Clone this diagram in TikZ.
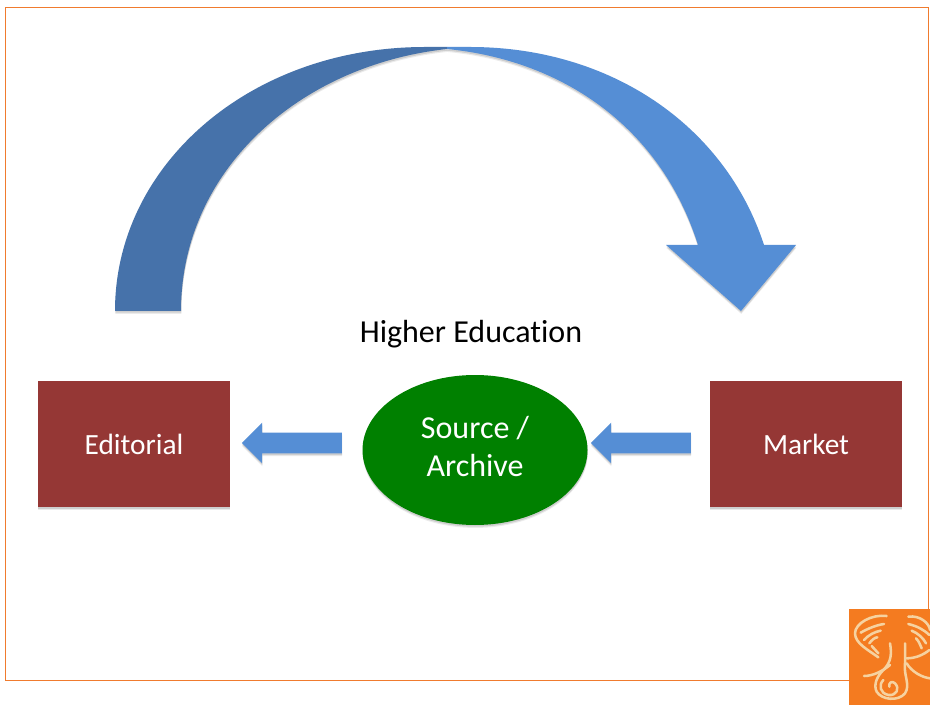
\documentclass[tikz,border=0pt]{standalone}
\usepackage{fontspec}
\setmainfont[Ligatures=NoCommon]{Carlito}
\usetikzlibrary{shapes.geometric,shapes.arrows,shadows}
\definecolor{frameor}{HTML}{F07B2E}
\definecolor{arcdark}{HTML}{4672AA}
\definecolor{arcblue}{HTML}{558ED5}
\definecolor{boxred}{HTML}{953735}
\definecolor{srcgreen}{HTML}{008000}
\definecolor{logoor}{HTML}{F47B20}
\definecolor{logoln}{HTML}{F6D2A0}
\tikzset{
  softshadow/.style={
    drop shadow={shadow xshift=0.2pt,shadow yshift=-2.2pt,fill=black,opacity=0.08},
    drop shadow={shadow xshift=0.2pt,shadow yshift=-1.3pt,fill=black,opacity=0.12}},
  redbox/.style={rectangle,fill=boxred,text=white,minimum width=144pt,minimum height=94.5pt,inner sep=0pt,font=\fontsize{22}{26}\selectfont,softshadow},
  srcnode/.style={ellipse,fill=srcgreen,minimum width=168.75pt,minimum height=112.5pt,inner sep=0pt,softshadow},
  srctext/.style={text=white,align=center,inner sep=0pt,font=\fontsize{24}{28.5}\selectfont},
  blockarrow/.style={single arrow,fill=arcblue,inner sep=0pt,minimum height=75pt,single arrow head extend=7.5pt,single arrow tip angle=90,shape border rotate=180,softshadow},
  logostroke/.style={draw=logoln,line width=1.9pt,line cap=round,line join=round},
}
\begin{document}
\begin{tikzpicture}[x=0.75pt,y=-0.75pt]
\useasboundingbox (0,0) rectangle (930,705);
\fill[white] (0,0) rectangle (930,705);
% frame
\draw[frameor,line width=0.8pt] (5.5,7.5) rectangle (928.5,680.5);
% big curved arrow
\fill[arcdark,softshadow] (115,311) .. controls (115,165) and (250,47) .. (425,47) -- (447,47) -- (447,49)
  .. controls (300,65) and (181,170) .. (181,311) -- cycle;
\fill[arcblue,softshadow] (447,49) -- (447,47) -- (470,47) .. controls (610,47) and (725,125) .. (764,245)
  -- (796,245) -- (741,311) -- (666,245) -- (698,245) .. controls (660,125) and (560,60) .. (447,49) -- cycle;
% nodes
\node[redbox] (editorial) at (134,444) {Editorial};
\node[redbox] (market) at (806,444) {Market};
\node[srcnode] (source) at (475,450) {};
\node[srctext] (sourcetext) at (475,446) {Source /\\Archive};
\node[font=\fontsize{24}{28}\selectfont] (higher) at (471,334) {Higher Education};
\node[blockarrow] (arrowleft) at (297,443) {\rule{0pt}{15pt}};
\node[blockarrow] (arrowright) at (646,443) {\rule{0pt}{15pt}};
% logo
\fill[logoor] (849,609) rectangle (930,705);
\begin{scope}[shift={(840,600)},x=0.25pt,y=-0.25pt]
\draw[logostroke] (140,48) .. controls (95,42) and (45,70) .. (45,100) .. controls (45,130) and (85,150) .. (115,172);
\draw[logostroke] (62,98) .. controls (85,85) and (110,75) .. (132,72);
\draw[logostroke] (72,120) .. controls (85,105) and (105,95) .. (122,92);
\draw[logostroke] (88,130) .. controls (95,120) and (105,112) .. (112,112);
\draw[logostroke] (95,138) -- (115,160);
\draw[logostroke] (205,50) .. controls (240,45) and (268,70) .. (270,90);
\draw[logostroke] (205,72) .. controls (230,78) and (250,88) .. (268,105);
\draw[logostroke] (215,92) .. controls (235,100) and (250,115) .. (258,130);
\draw[logostroke] (228,115) .. controls (238,125) and (240,135) .. (245,145);
\draw[logostroke] (268,150) .. controls (250,165) and (225,175) .. (200,175);
\draw[logostroke] (150,130) .. controls (155,160) and (155,185) .. (130,210) .. controls (110,230) and (100,255) .. (110,275) .. controls (125,300) and (175,305) .. (195,280) .. controls (212,255) and (190,225) .. (195,190) -- (195,130);
\draw[logostroke] (130,240) .. controls (115,255) and (120,280) .. (145,285) .. controls (170,288) and (180,265) .. (165,250) .. controls (155,240) and (145,250) .. (148,260);
\draw[logostroke] (72,228) .. controls (100,228) and (130,212) .. (150,195);
\draw[logostroke] (200,190) .. controls (215,215) and (245,232) .. (270,235);
\end{scope}
\end{tikzpicture}
\end{document}
